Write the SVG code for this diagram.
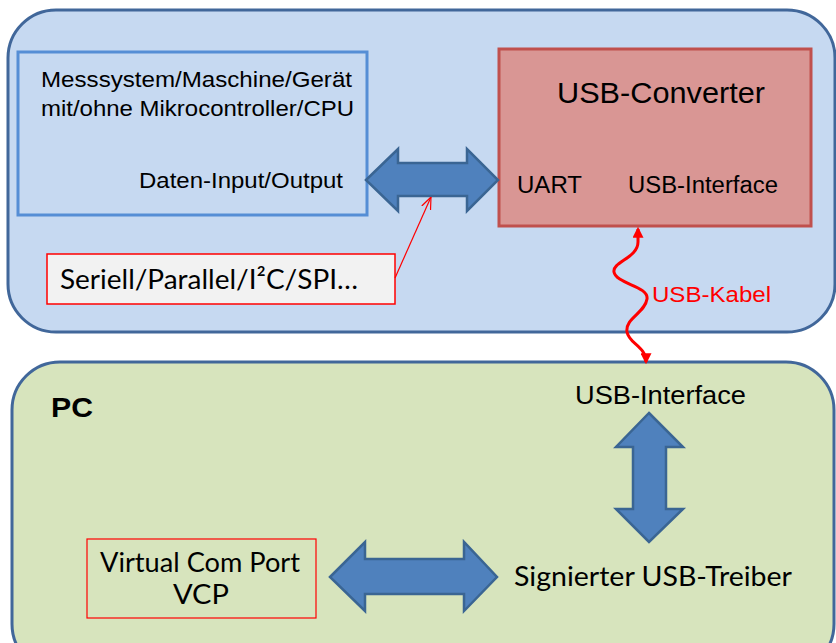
<svg xmlns="http://www.w3.org/2000/svg" width="836" height="643" viewBox="0 0 836 643">
<defs>
<style>
.container{stroke:#41679A;stroke-width:3}
.arial{font-family:"Liberation Sans",Arial,sans-serif;fill:#000}
.cal{font-family:Lato,"Open Sans",sans-serif;fill:#000}
.bigarrow{fill:#4F81BD;stroke:#3A6593;stroke-width:2.5;stroke-linejoin:miter}
</style>
<marker id="redHead" viewBox="0 0 10 10" refX="8" refY="5" markerWidth="11" markerHeight="11" markerUnits="userSpaceOnUse" orient="auto-start-reverse">
<path d="M0,0 L10,5 L0,10 z" fill="#FF0000"/>
</marker>
<marker id="openHead" viewBox="0 0 10 10" refX="10" refY="5" markerWidth="12" markerHeight="12" markerUnits="userSpaceOnUse" orient="auto">
<path d="M0,1 L10,5 L0,9" fill="none" stroke="#FF0000" stroke-width="1"/>
</marker>
</defs>
<rect width="836" height="643" fill="#FFFFFF"/>

<g id="device-container">
<rect class="container" x="8" y="10" width="827" height="322" rx="48" fill="#C6D9F1"/>
</g>
<g id="pc-container">
<rect class="container" x="12" y="362" width="822" height="310" rx="48" fill="#D7E4BD"/>
<text class="arial" x="51" y="417" font-size="28" font-weight="bold" textLength="42" lengthAdjust="spacingAndGlyphs">PC</text>
</g>

<g id="device">
<rect x="18" y="52" width="349" height="163" fill="none" stroke="#558ED5" stroke-width="3"/>
<text class="arial" x="41" y="87" font-size="22" textLength="311" lengthAdjust="spacingAndGlyphs">Messsystem/Maschine/Gerät</text>
<text class="arial" x="41" y="116" font-size="22" textLength="313" lengthAdjust="spacingAndGlyphs">mit/ohne Mikrocontroller/CPU</text>
<text class="arial" x="139" y="188" font-size="22" textLength="204" lengthAdjust="spacingAndGlyphs">Daten-Input/Output</text>
</g>

<g id="protocols">
<rect x="47" y="254" width="348" height="50" fill="#F2F2F2" stroke="#FF0000" stroke-width="1.5"/>
<text class="cal" x="60" y="289" font-size="27" textLength="298" lengthAdjust="spacingAndGlyphs">Seriell/Parallel/I²C/SPI…</text>
</g>

<g id="usb-converter">
<rect x="499" y="49" width="312" height="177" fill="#D99694" stroke="#C0504D" stroke-width="3"/>
<text class="arial" x="557" y="103" font-size="30" textLength="208" lengthAdjust="spacingAndGlyphs">USB-Converter</text>
<text class="arial" x="517" y="193" font-size="23" textLength="65" lengthAdjust="spacingAndGlyphs">UART</text>
<text class="arial" x="628" y="193" font-size="23" textLength="150" lengthAdjust="spacingAndGlyphs">USB-Interface</text>
</g>

<g id="pc-usb-interface">
<text class="arial" x="575" y="404" font-size="26" textLength="171" lengthAdjust="spacingAndGlyphs">USB-Interface</text>
</g>

<g id="usb-driver">
<text class="cal" x="514" y="586" font-size="26" textLength="278" lengthAdjust="spacingAndGlyphs">Signierter USB-Treiber</text>
</g>

<g id="vcp">
<rect x="87" y="539" width="229" height="79" fill="none" stroke="#FF0000" stroke-width="1.2"/>
<text class="cal" x="100" y="572" font-size="26" textLength="200" lengthAdjust="spacingAndGlyphs">Virtual Com Port</text>
<text class="cal" x="173" y="604" font-size="26" textLength="56" lengthAdjust="spacingAndGlyphs">VCP</text>
</g>

<g id="connectors">
<polygon class="bigarrow" points="366,180 398,149 398,163 467,163 467,149 498,180 467,211 467,196 398,196 398,211"/>
<polygon class="bigarrow" points="649,413 683,447 666,447 666,509 683,509 649,542 616,509 633,509 633,447 616,447"/>
<polygon class="bigarrow" points="330,577 365,542 365,559 464,559 464,542 497,577 464,611 464,594 365,594 365,611"/>
<line x1="395" y1="278" x2="431" y2="197" stroke="#FF0000" stroke-width="1.2" marker-end="url(#openHead)"/>
<path d="M638,229 L638,242 C638,258 612,262 614,272 C616,284 649,286 647,299 C645,313 625,318 627,332 C629,344 646,346 646,362" fill="none" stroke="#FF0000" stroke-width="3" marker-start="url(#redHead)" marker-end="url(#redHead)"/>
<text class="arial" x="652" y="302" font-size="22" fill="#FF0000" style="fill:#FF0000" textLength="119" lengthAdjust="spacingAndGlyphs">USB-Kabel</text>
</g>
</svg>
